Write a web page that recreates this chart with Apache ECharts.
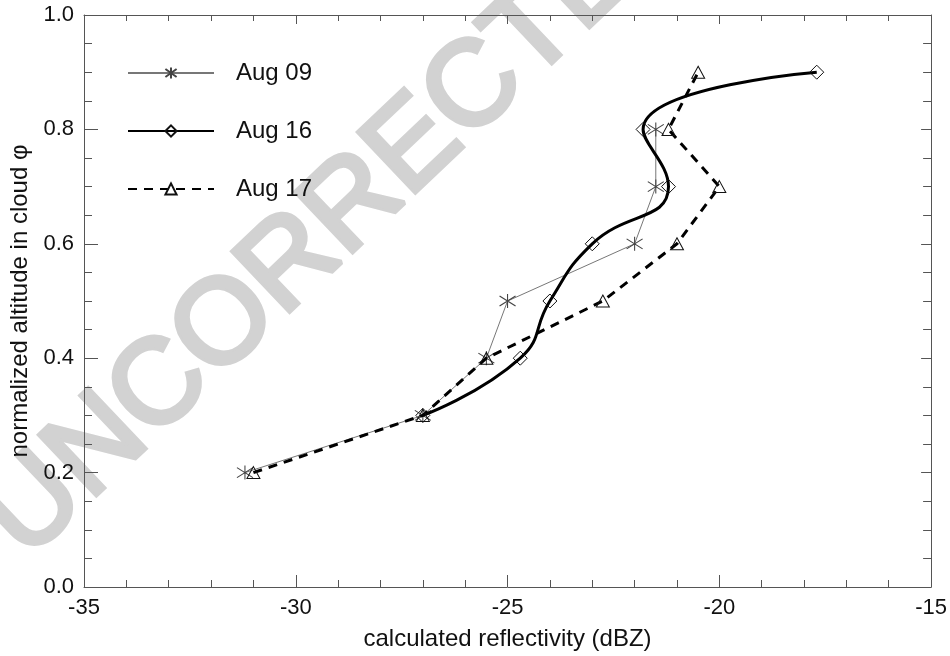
<!DOCTYPE html>
<html>
<head>
<meta charset="utf-8">
<script src="https://cdn.jsdelivr.net/npm/echarts@6/dist/echarts.min.js"></script>
<style>
html,body{margin:0;padding:0;background:#fff;}
#chart{width:950px;height:656px;}
</style>
</head>
<body>
<div id="chart"></div>
<script>
// ---- data ----
const seriesNames = ['Aug 09', 'Aug 16', 'Aug 17'];
const aug09Phi = [0.2, 0.3, 0.4, 0.5, 0.6, 0.7, 0.8];
const aug09Dbz = [-31.2, -27.0, -25.5, -25.0, -22.0, -21.5, -21.5];
const aug16Phi = [0.3, 0.4, 0.5, 0.6, 0.7, 0.8, 0.9];
const aug16Dbz = [-27.0, -24.7, -24.0, -23.0, -21.2, -21.8, -17.7];
const aug17Phi = [0.2, 0.3, 0.4, 0.5, 0.6, 0.7, 0.8, 0.9];
const aug17Dbz = [-31.0, -27.0, -25.5, -22.75, -21.0, -20.0, -21.2, -20.5];
const xTicks = [-35, -30, -25, -20, -15];
const yTicks = [0.0, 0.2, 0.4, 0.6, 0.8, 1.0];

const FONT = '"Liberation Sans", Arial, Helvetica, sans-serif';
const pair = (xs, ys) => xs.map((x, i) => [x, ys[i]]);
const asterisk = 'path://M0,-7L0,7M-8,-5L8,5M-8,5L8,-5';

const chart = echarts.init(document.getElementById('chart'), null, {renderer: 'canvas'});

const axisLineStyle = {color: '#555', width: 1};
const baseX = {
  type: 'value', min: xTicks[0], max: xTicks[xTicks.length - 1], interval: 5,
  splitLine: {show: false},
  axisLine: {show: true, onZero: false, lineStyle: axisLineStyle}
};
const baseY = {
  type: 'value', min: yTicks[0], max: yTicks[yTicks.length - 1], interval: 0.2,
  splitLine: {show: false},
  axisLine: {show: true, onZero: false, lineStyle: axisLineStyle}
};

const option = {
  backgroundColor: '#fff',
  animation: false,
  textStyle: {fontFamily: FONT},
  grid: {left: 83, right: 17, top: 15, bottom: 68, containLabel: false},
  graphic: [{
    type: 'text', x: 342, y: 216, rotation: 43.5 * Math.PI / 180, z: -10, silent: true,
    style: {text: 'UNCORRECTED', fill: '#d2d2d2', stroke: '#d2d2d2', lineWidth: 5,
      font: '120px ' + FONT, align: 'center', verticalAlign: 'middle'}
  }],
  legend: {
    orient: 'vertical', left: 127, top: 61, padding: 0,
    itemWidth: 86, itemHeight: 14, itemGap: 34,
    data: seriesNames,
    textStyle: {fontSize: 24, color: '#111', fontFamily: FONT, lineHeight: 24, padding: [0, 0, 0, 17]}
  },
  xAxis: [
    Object.assign({}, baseX, {
      position: 'bottom',
      axisTick: {show: true, inside: true, length: 12, lineStyle: {color: '#555'}},
      minorTick: {show: true, splitNumber: 5, length: 7, lineStyle: {color: '#555'}},
      axisLabel: {fontSize: 22, color: '#111', margin: 10, fontFamily: FONT},
      name: 'calculated reflectivity (dBZ)', nameLocation: 'middle', nameGap: 40,
      nameTextStyle: {fontSize: 24, color: '#111', fontFamily: FONT}
    }),
    Object.assign({}, baseX, {
      position: 'top',
      axisTick: {show: true, inside: true, length: 9, lineStyle: {color: '#555'}},
      minorTick: {show: true, splitNumber: 5, length: 6, lineStyle: {color: '#555'}},
      axisLabel: {show: false}
    })
  ],
  yAxis: [
    Object.assign({}, baseY, {
      position: 'left',
      axisTick: {show: true, inside: true, length: 14, lineStyle: {color: '#555'}},
      minorTick: {show: true, splitNumber: 4, length: 8, lineStyle: {color: '#555'}},
      axisLabel: {fontSize: 22, color: '#111', margin: 10, fontFamily: FONT,
        formatter: v => v.toFixed(1)},
      name: 'normalized altitude in cloud \u03C6', nameLocation: 'middle', nameGap: 52,
      nameTextStyle: {fontSize: 24, color: '#111', fontFamily: FONT}
    }),
    Object.assign({}, baseY, {
      position: 'right',
      axisTick: {show: true, inside: true, length: 10, lineStyle: {color: '#555'}},
      minorTick: {show: true, splitNumber: 4, length: 8, lineStyle: {color: '#555'}},
      axisLabel: {show: false}
    })
  ],
  series: [
    {
      name: seriesNames[0], type: 'line', xAxisIndex: 0, yAxisIndex: 0,
      data: pair(aug09Dbz, aug09Phi),
      symbol: asterisk, symbolSize: [16, 14], symbolKeepAspect: false,
      itemStyle: {color: 'rgba(0,0,0,0)', borderColor: '#444', borderWidth: 1},
      lineStyle: {color: '#777', width: 1},
      z: 3
    },
    {
      name: seriesNames[1], type: 'line', xAxisIndex: 0, yAxisIndex: 0,
      data: pair(aug16Dbz, aug16Phi),
      smooth: 0.5,
      symbol: 'diamond', symbolSize: [14, 14],
      itemStyle: {color: 'rgba(0,0,0,0)', borderColor: '#111', borderWidth: 1},
      lineStyle: {color: '#000', width: 3},
      z: 4
    },
    {
      name: seriesNames[2], type: 'line', xAxisIndex: 0, yAxisIndex: 0,
      data: pair(aug17Dbz, aug17Phi),
      symbol: 'triangle', symbolSize: [13, 12],
      itemStyle: {color: 'rgba(0,0,0,0)', borderColor: '#111', borderWidth: 1},
      lineStyle: {color: '#000', width: 3, type: [9, 7]},
      z: 5
    }
  ]
};
chart.setOption(option);
</script>
</body>
</html>
